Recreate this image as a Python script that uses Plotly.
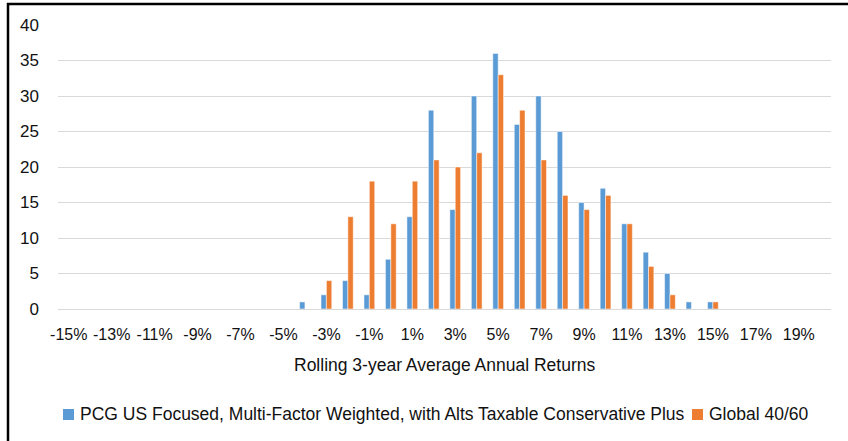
import plotly.graph_objects as go

# Return buckets (percent) and counts of rolling 3-year periods in each bucket
returns_pct = list(range(-15, 21))
pcg_counts = [0, 0, 0, 0, 0, 0, 0, 0, 0, 0, 0, 1, 2, 4, 2, 7, 13, 28, 14, 30,
              36, 26, 30, 25, 15, 17, 12, 8, 5, 1, 1, 0, 0, 0, 0, 0]
global_counts = [0, 0, 0, 0, 0, 0, 0, 0, 0, 0, 0, 0, 4, 13, 18, 12, 18, 21, 20, 22,
                 33, 28, 21, 16, 14, 16, 12, 6, 2, 0, 1, 0, 0, 0, 0, 0]
tick_values = list(range(-15, 21, 2))
tick_labels = [f"{v}%" for v in tick_values]

series_names = ["PCG US Focused, Multi-Factor Weighted, with Alts Taxable Conservative Plus",
                "Global 40/60"]
axis_title = "Rolling 3-year Average Annual Returns"

BLUE = "#5B9BD5"
ORANGE = "#ED7D31"
TEXT = "#111111"
FONT = "Liberation Sans"

W, H = 848, 441
L, R, T, B = 58, 17, 25, 132
pw, ph = W - L - R, H - T - B


def px_x(x):
    return (x - L) / pw


def px_y(y):
    return (H - B - y) / ph


fig = go.Figure()
fig.add_trace(go.Bar(x=returns_pct, y=pcg_counts, name=series_names[0],
                     marker=dict(color=BLUE, line=dict(color="white", width=0.5))))
fig.add_trace(go.Bar(x=returns_pct, y=global_counts, name=series_names[1],
                     marker=dict(color=ORANGE, line=dict(color="white", width=0.5))))

# Legend row drawn as swatches plus labels along the bottom
legend_items = [(series_names[0], BLUE, 63), (series_names[1], ORANGE, 692)]
legend_shapes, legend_notes = [], []
for name, color, x0 in legend_items:
    legend_shapes.append(dict(type="rect", xref="paper", yref="paper",
                              x0=px_x(x0), x1=px_x(x0 + 11),
                              y0=px_y(420), y1=px_y(409),
                              fillcolor=color, line=dict(width=0)))
    legend_notes.append(dict(text=name, xref="paper", yref="paper",
                             x=px_x(x0 + 15), y=px_y(414.5),
                             xanchor="left", yanchor="middle", showarrow=False,
                             font=dict(size=17.5, color=TEXT)))

fig.update_layout(
    width=W, height=H,
    margin=dict(l=L, r=R, t=T, b=B, pad=0),
    paper_bgcolor="white", plot_bgcolor="white",
    barmode="group", bargap=0.5, bargroupgap=0,
    font=dict(family=FONT, size=16, color=TEXT),
    showlegend=False,
    xaxis=dict(range=[-15.5, 20.5], tickmode="array", tickvals=tick_values,
               ticktext=tick_labels, showgrid=False, zeroline=False,
               showline=False, ticks="", ticklabelstandoff=14, fixedrange=True),
    yaxis=dict(range=[0, 40], dtick=5, showgrid=True, gridcolor="#D9D9D9",
               gridwidth=1, zeroline=True, zerolinecolor="#D9D9D9",
               zerolinewidth=1, showline=False, ticks="",
               tickfont=dict(size=17),
               ticklabelstandoff=18, fixedrange=True),
    annotations=[dict(text=axis_title, xref="paper", yref="paper",
                      x=px_x(444.5), y=px_y(365), xanchor="center", yanchor="middle",
                      showarrow=False, font=dict(size=17.5, color=TEXT))] + legend_notes,
    shapes=[dict(type="path", xref="paper", yref="paper",
                 path=f"M {px_x(8)} {px_y(445)} L {px_x(8)} {px_y(4)} L {px_x(852)} {px_y(4)}",
                 line=dict(color="black", width=2.5))] + legend_shapes,
)

fig.write_html("out.html")
